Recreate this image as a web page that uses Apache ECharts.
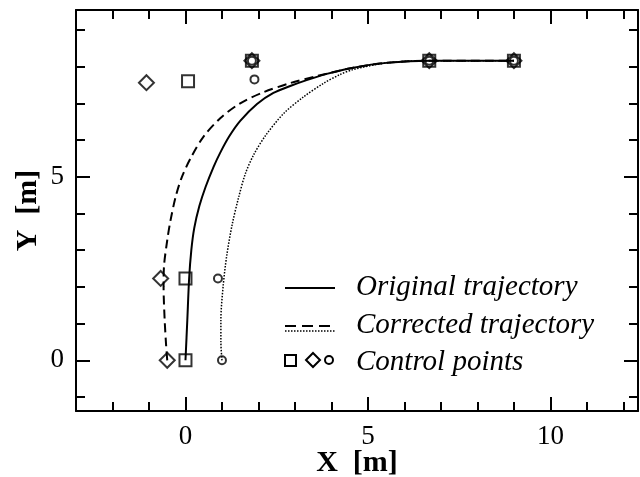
<!DOCTYPE html>
<html>
<head>
<meta charset="utf-8">
<script src="https://cdn.jsdelivr.net/npm/echarts@6/dist/echarts.min.js"></script>
<style>
  html, body { margin: 0; padding: 0; background: #fff; }
  #chart { width: 640px; height: 477px; }
</style>
</head>
<body>
<div id="chart"></div>
<script>
// trajectories
const origX = [0, 0.05, 0.1, 0.16, 0.24, 0.38, 0.55, 0.77, 0.95, 1.2, 1.5, 1.96, 2.41, 2.87, 3.32, 3.87, 4.6, 5.51, 6.68, 9.0];
const origY = [0, 1.09, 2.23, 3.0, 3.6, 4.2, 4.72, 5.27, 5.65, 6.1, 6.52, 6.98, 7.28, 7.47, 7.63, 7.8, 7.97, 8.1, 8.16, 8.16];

const corrX = [-0.5, -0.53, -0.57, -0.6, -0.59, -0.5, -0.41, -0.27, -0.1, 0.16, 0.5, 0.96, 1.5, 2.14, 2.87, 3.6, 4.6, 5.51, 6.68, 9.0];
const corrY = [0, 0.4, 1.09, 2.0, 2.54, 3.27, 3.81, 4.45, 4.99, 5.54, 6.1, 6.6, 7.0, 7.3, 7.55, 7.74, 7.97, 8.1, 8.16, 8.16];

const dotX = [1.0, 0.97, 0.97, 1.03, 1.13, 1.28, 1.46, 1.64, 1.87, 2.2, 2.69, 3.23, 3.78, 4.23, 4.6, 5.51, 6.68, 9.0];
const dotY = [0, 0.5, 1.09, 2.0, 2.85, 3.7, 4.45, 5.08, 5.6, 6.13, 6.72, 7.17, 7.54, 7.78, 7.92, 8.1, 8.16, 8.16];

// control points
const sqX = [0, 0, 0.07, 1.82, 6.68, 9.0];
const sqY = [0, 2.23, 7.6, 8.16, 8.16, 8.16];
const diaX = [-0.5, -0.68, -1.07, 1.82, 6.68, 9.0];
const diaY = [0, 2.23, 7.56, 8.16, 8.16, 8.16];
const cirX = [1.0, 0.89, 1.89, 1.82, 6.68, 9.0];
const cirY = [0, 2.23, 7.65, 8.16, 8.16, 8.16];

// ticks
const xMajor = [0, 5, 10];
const xMinor = [-2, -1, 1, 2, 3, 4, 6, 7, 8, 9, 11, 12];
const yMajor = [0, 5];
const yMinor = [-1, 1, 2, 3, 4, 6, 7, 8, 9];

const legendNames = ["Original trajectory", "Corrected trajectory", "Control points"];

const pairs = (xs, ys) => xs.map((x, i) => [x, ys[i]]);
const font = "Liberation Serif";

function axis(pos, min, max, ticks, len, main, extra) {
  return Object.assign({
    type: "value",
    position: pos,
    min: min,
    max: max,
    axisLine: { show: main, onZero: false, lineStyle: { color: "#000", width: 2 } },
    axisTick: { show: true, inside: true, length: len, customValues: ticks, lineStyle: { color: "#000", width: 2 } },
    axisLabel: { show: false },
    splitLine: { show: false },
  }, extra || {});
}

const labelStyle = { show: true, fontFamily: font, fontSize: 27, color: "#000" };
const nameStyle = { fontFamily: font, fontSize: 30, fontWeight: "bold", color: "#000" };

const chart = echarts.init(document.getElementById("chart"));

const option = {
  animation: false,
  backgroundColor: "#fff",
  grid: { left: 76, right: 2, top: 10, bottom: 66, outerBoundsMode: "none", containLabel: false },
  xAxis: [
    axis("bottom", -3, 12.4, xMajor, 14, true, {
      axisLabel: Object.assign({ customValues: xMajor, margin: 12 }, labelStyle),
      name: "X  [m]",
      nameLocation: "middle",
      nameGap: 37,
      nameMoveOverlap: false,
      nameTextStyle: nameStyle,
    }),
    axis("bottom", -3, 12.4, xMinor, 9, false),
    axis("top", -3, 12.4, xMajor, 14, true),
    axis("top", -3, 12.4, xMinor, 9, false),
  ],
  yAxis: [
    axis("left", -1.38, 9.54, yMajor, 14, true, {
      axisLabel: Object.assign({ customValues: yMajor, margin: 12 }, labelStyle),
      name: "Y  [m]",
      nameLocation: "middle",
      nameRotate: 90,
      nameGap: 33,
      nameMoveOverlap: false,
      nameTextStyle: nameStyle,
    }),
    axis("left", -1.38, 9.54, yMinor, 9, false),
    axis("right", -1.38, 9.54, yMajor, 14, true),
    axis("right", -1.38, 9.54, yMinor, 9, false),
  ],
  series: [
    {
      name: legendNames[0],
      type: "line",
      data: pairs(origX, origY),
      showSymbol: false,
      smooth: 0.3,
      lineStyle: { color: "#000", width: 2 },
      z: 2,
    },
    {
      name: legendNames[1],
      type: "line",
      data: pairs(corrX, corrY),
      showSymbol: false,
      smooth: 0.3,
      lineStyle: { color: "#000", width: 2, type: [9, 5] },
      z: 2,
    },
    {
      name: "dotted",
      type: "line",
      data: pairs(dotX, dotY),
      showSymbol: false,
      smooth: 0.3,
      lineStyle: { color: "#000", width: 1.5, type: [1.5, 1.5] },
      z: 2,
    },
    {
      type: "scatter",
      data: pairs(sqX, sqY),
      symbol: "rect",
      symbolSize: 12,
      itemStyle: { color: "rgba(255,255,255,0)", borderColor: "#000", borderWidth: 2 },
      z: 3,
    },
    {
      type: "scatter",
      data: pairs(diaX, diaY),
      symbol: "diamond",
      symbolSize: 15,
      itemStyle: { color: "rgba(255,255,255,0)", borderColor: "#000", borderWidth: 2 },
      z: 3,
    },
    {
      type: "scatter",
      data: pairs(cirX, cirY),
      symbol: "circle",
      symbolSize: 8,
      itemStyle: { color: "rgba(255,255,255,0)", borderColor: "#000", borderWidth: 2 },
      z: 3,
    },
  ],
  graphic: [
    { type: "line", shape: { x1: 285, y1: 288, x2: 335, y2: 288 }, style: { stroke: "#000", lineWidth: 2 } },
    { type: "line", shape: { x1: 285, y1: 326, x2: 335, y2: 326 }, style: { stroke: "#000", lineWidth: 2, lineDash: [11, 6] } },
    { type: "line", shape: { x1: 285, y1: 331, x2: 335, y2: 331 }, style: { stroke: "#000", lineWidth: 1.5, lineDash: [1.5, 1.5] } },
    { type: "rect", shape: { x: 285, y: 355, width: 11, height: 11 }, style: { fill: "#fff", stroke: "#000", lineWidth: 2 } },
    { type: "polygon", shape: { points: [[313, 353], [320, 360], [313, 367], [306, 360]] }, style: { fill: "#fff", stroke: "#000", lineWidth: 2 } },
    { type: "circle", shape: { cx: 329, cy: 360, r: 4 }, style: { fill: "#fff", stroke: "#000", lineWidth: 2 } },
    { type: "text", x: 356, y: 287, style: { text: legendNames[0], font: "italic 29px " + font, fill: "#000", verticalAlign: "middle" } },
    { type: "text", x: 356, y: 325, style: { text: legendNames[1], font: "italic 29px " + font, fill: "#000", verticalAlign: "middle" } },
    { type: "text", x: 356, y: 362, style: { text: legendNames[2], font: "italic 29px " + font, fill: "#000", verticalAlign: "middle" } },
  ],
};

chart.setOption(option);
</script>
</body>
</html>
